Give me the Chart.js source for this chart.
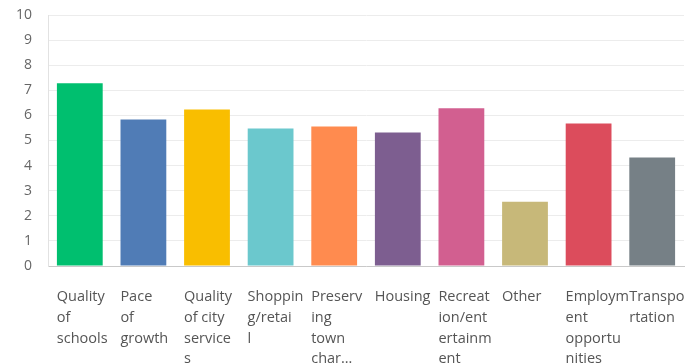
<!DOCTYPE html>
<html>
<head>
<meta charset="utf-8">
<script src="https://cdn.jsdelivr.net/npm/chart.js@4"></script>
<style>
  html, body { margin: 0; padding: 0; background: #fff; }
  #wrap { width: 685px; height: 364px; }
</style>
</head>
<body>
<div id="wrap"><canvas id="chart" width="685" height="364"></canvas></div>
<script>
// category labels, pre-wrapped the way the survey widget breaks them
const categories = [
    ["Quality", "of", "schools"],
    ["Pace", "of", "growth"],
    ["Quality", "of city", "service", "s"],
    ["Shoppin", "g/retai", "l"],
    ["Preserv", "ing", "town", "char\u2026"],
    ["Housing"],
    ["Recreat", "ion/ent", "ertainm", "ent"],
    ["Other"],
    ["Employm", "ent", "opportu", "nities"],
    ["Transpo", "rtation"]
];

// average rank score per category
const scores = [7.28, 5.84, 6.24, 5.48, 5.56, 5.32, 6.28, 2.56, 5.68, 4.32];

const barColors = [
    "#00bf6f", "#507cb6", "#f9be00", "#6bc8cd", "#ff8b4f",
    "#7d5e90", "#d25f90", "#c7b879", "#dc4c5c", "#768086"
];

const yTicks = [0, 1, 2, 3, 4, 5, 6, 7, 8, 9, 10];

const ctx = document.getElementById('chart').getContext('2d');
new Chart(ctx, {
    type: 'bar',
    data: {
        labels: categories,
        datasets: [{
            data: scores,
            backgroundColor: barColors,
            borderWidth: 0,
            barPercentage: 0.72,
            categoryPercentage: 1
        }]
    },
    options: {
        responsive: false,
        animation: false,
        layout: { padding: { top: 15, right: 1, left: 0, bottom: 0 } },
        plugins: {
            legend: { display: false },
            tooltip: { enabled: false }
        },
        scales: {
            x: {
                grid: { display: false },
                border: { display: true, color: '#c9c9c9', width: 1 },
                ticks: {
                    autoSkip: false,
                    maxRotation: 0,
                    minRotation: 0,
                    align: 'start',
                    labelOffset: -23,
                    padding: 13,
                    color: '#555',
                    font: { family: '"Open Sans", "Noto Sans", sans-serif', size: 14.5, lineHeight: 1.42 }
                },
                afterFit: (scale) => {
                    scale.height = 98;
                    scale.paddingLeft = 0;
                    scale.paddingRight = 0;
                }
            },
            y: {
                min: 0,
                max: 10,
                afterBuildTicks: (scale) => {
                    scale.ticks = yTicks.map(v => ({ value: v }));
                },
                grid: { color: '#ececec', drawTicks: false },
                border: { display: true, color: '#e2e2e2' },
                ticks: {
                    padding: 16,
                    color: '#666',
                    font: { family: '"Open Sans", "Noto Sans", sans-serif', size: 14 }
                },
                afterFit: (scale) => {
                    scale.width = 48;
                    scale.paddingTop = 0;
                    scale.paddingBottom = 0;
                }
            }
        }
    }
});
</script>
</body>
</html>
